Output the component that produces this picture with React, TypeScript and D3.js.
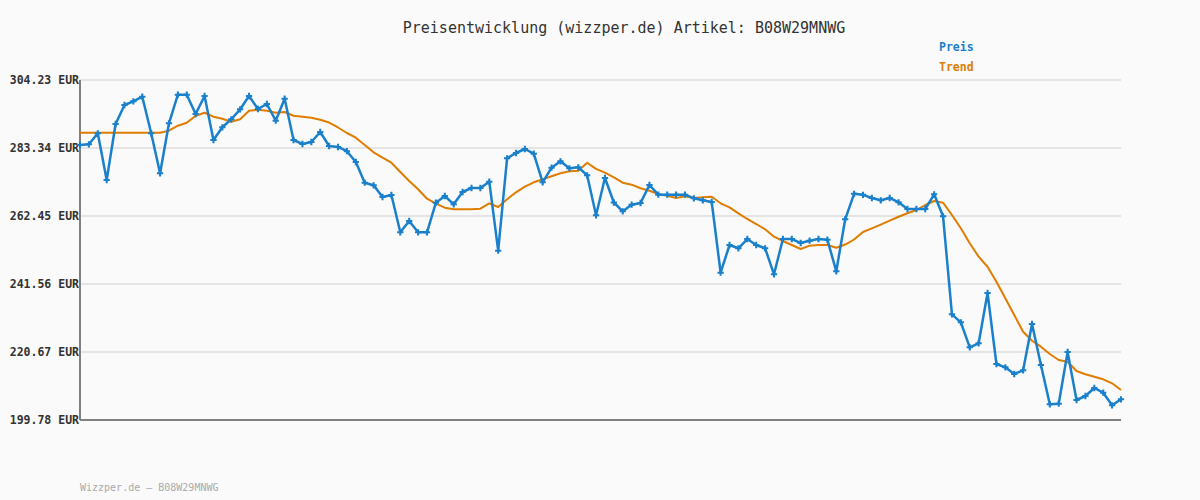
import React from "react";
import * as d3 from "d3";

const TITLE = "Preisentwicklung (wizzper.de) Artikel: B08W29MNWG";
const FOOTER = "Wizzper.de \u2013 B08W29MNWG";
const yTicks = [199.78, 220.67, 241.56, 262.45, 283.34, 304.23];

const price = [
  284.26, 284.48, 287.86, 273.51, 290.71, 296.55, 297.69, 299.1, 287.86, 275.57,
  290.93, 299.71, 299.71, 293.78, 299.31, 285.8, 289.7, 292.16, 295.23, 299.31,
  295.32, 296.86, 291.73, 298.49, 285.8, 284.57, 285.18, 288.26, 283.95, 283.65,
  282.36, 279.04, 272.68, 271.88, 268.29, 268.9, 257.44, 260.91, 257.44, 257.44,
  266.54, 268.59, 266.04, 269.82, 271.05, 271.05, 272.99, 251.79, 280.18, 281.8,
  283.03, 281.59, 272.8, 277.29, 279.25, 277.1, 277.41, 274.95, 262.66, 274.12,
  266.6, 263.89, 265.92, 266.44, 271.97, 268.99, 268.99, 268.99, 268.99, 267.89,
  267.27, 266.75, 245.03, 253.54, 252.53, 255.38, 253.54, 252.53, 244.54, 255.38,
  255.38, 254.15, 254.86, 255.38, 255.17, 245.46, 261.44, 269.27, 268.96, 267.98,
  267.27, 267.98, 266.66, 264.6, 264.6, 264.6, 269.12, 262.36, 232.25, 229.79,
  222.11, 223.34, 238.79, 216.98, 215.97, 213.91, 215.05, 229.27, 216.68, 204.6,
  204.79, 220.67, 205.92, 207.15, 209.61, 208.17, 204.29, 206.14,
];

const trend = [
  288.04, 288.04, 288.04, 288.04, 288.04, 288.04, 288.04, 288.04, 288.04, 288.04,
  288.65, 290.19, 291.11, 293.26, 294.18, 292.96, 292.34, 291.42, 292.16, 294.8,
  295.11, 294.8, 294.18, 294.4, 293.26, 292.96, 292.65, 292.03, 291.17, 289.64,
  287.95, 286.5, 284.26, 282.02, 280.36, 278.82, 275.97, 273.2, 270.65, 267.76,
  266.23, 265.0, 264.51, 264.51, 264.51, 264.69, 266.35, 265.21, 267.58, 269.73,
  271.45, 272.8, 273.72, 274.65, 275.57, 276.18, 276.37, 278.82, 276.95, 275.75,
  274.34, 272.68, 272.07, 270.96, 270.22, 269.21, 268.69, 267.98, 268.5, 267.98,
  268.19, 268.38, 266.35, 265.12, 263.28, 261.53, 259.99, 258.36, 256.09, 254.77,
  253.54, 252.31, 253.33, 253.54, 253.54, 252.71, 253.69, 255.23, 257.53, 258.67,
  259.78, 261.01, 262.23, 263.28, 264.29, 265.83, 267.06, 266.54, 262.76, 258.67,
  254.06, 249.95, 246.87, 242.27, 237.17, 232.04, 226.91, 224.14, 222.3, 220.05,
  218.21, 217.69, 214.83, 213.82, 213.08, 212.28, 211.05, 208.99,
];

const W = 1200;
const H = 500;
const M = { left: 80, right: 1121, top: 80, bottom: 420 };
const BLUE = "#1a80cc";
const ORANGE = "#e07c00";
const MONO = "'DejaVu Sans Mono', 'Liberation Mono', monospace";

export default function App() {
  const x = d3.scaleLinear().domain([0, price.length - 1]).range([M.left, M.right]);
  const y = d3.scaleLinear().domain([199.78, 304.23]).range([M.bottom, M.top]);
  const line = d3
    .line<number>()
    .x((_, i) => x(i))
    .y((d) => y(d));
  const cross = d3.symbol().type(d3.symbolCross).size(22)() as string;

  return (
    <svg
      width={W}
      height={H}
      style={{ position: "absolute", left: 0, top: 0, background: "#fafafa" }}
    >
      <rect x={0} y={0} width={W} height={H} fill="#fafafa" />
      <text x={624} y={33} textAnchor="middle" fontFamily={MONO} fontSize={15} fill="#333">
        {TITLE}
      </text>
      <text x={939} y={51} fontFamily={MONO} fontSize={11.5} fontWeight="bold" fill={BLUE}>
        Preis
      </text>
      <text x={939} y={71} fontFamily={MONO} fontSize={11.5} fontWeight="bold" fill={ORANGE}>
        Trend
      </text>
      {yTicks.map((t) => (
        <g key={t}>
          {t !== 199.78 && (
            <line x1={M.left} x2={M.right} y1={y(t)} y2={y(t)} stroke="#e4e4e4" strokeWidth={2} />
          )}
          <text
            x={79}
            y={y(t) + 4}
            textAnchor="end"
            fontFamily={MONO}
            fontSize={11.5}
            fontWeight="bold"
            fill="#333"
          >
            {t.toFixed(2)} EUR
          </text>
        </g>
      ))}
      <line x1={M.left} x2={M.left} y1={M.top} y2={M.bottom} stroke="#808080" strokeWidth={2} />
      <line x1={M.left} x2={M.right} y1={M.bottom} y2={M.bottom} stroke="#808080" strokeWidth={2} />
      <path d={line(trend) || ""} fill="none" stroke={ORANGE} strokeWidth={2} strokeLinejoin="round" />
      <path d={line(price) || ""} fill="none" stroke={BLUE} strokeWidth={2.5} strokeLinejoin="round" />
      {price.map((v, i) => (
        <path key={i} d={cross} transform={`translate(${x(i)},${y(v)})`} fill={BLUE} />
      ))}
      <text x={80} y={491} fontFamily={MONO} fontSize={10} fill="#aaa">
        {FOOTER}
      </text>
    </svg>
  );
}
